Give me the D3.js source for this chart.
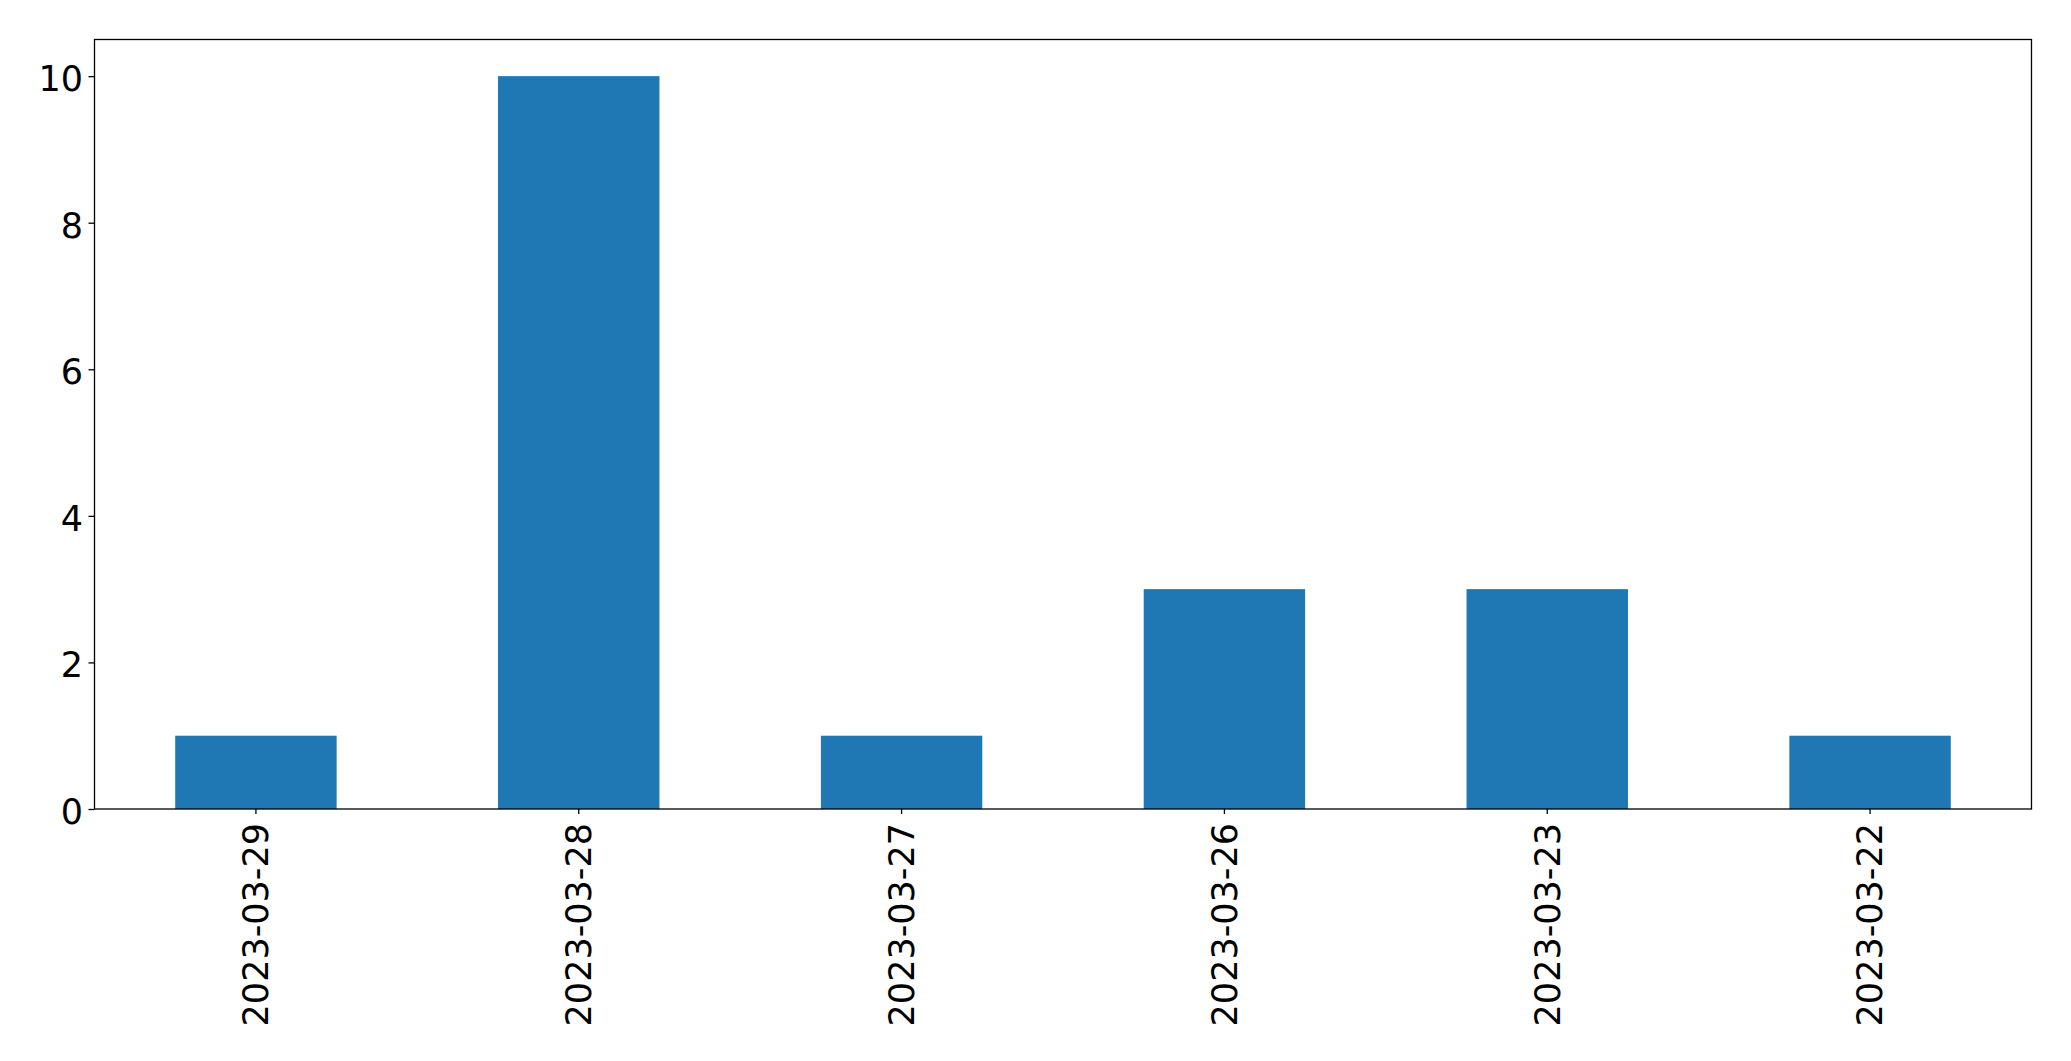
<!DOCTYPE html>
<html>
<head>
<meta charset="utf-8">
<script src="https://cdn.jsdelivr.net/npm/d3@7"></script>
<style>
  body { margin: 0; background: white; }
  svg text { font-family: 'DejaVu Sans', sans-serif; fill: black; }
</style>
</head>
<body>
<div id="viz"></div>
<script>
var dates = ['2023-03-29', '2023-03-28', '2023-03-27', '2023-03-26', '2023-03-23', '2023-03-22'];
var counts = [1, 10, 1, 3, 3, 1];
var yTicks = [0, 2, 4, 6, 8, 10];

var width = 2071,
    height = 1061,
    plotLeft = 94.5,
    plotRight = 2031.5,
    plotTop = 39.5,
    plotBottom = 809;

var svg = d3.select('#viz').append('svg')
  .attr('width', width)
  .attr('height', height);

var xScale = d3.scaleBand()
  .domain(dates)
  .range([plotLeft, plotRight])
  .paddingInner(0.5)
  .paddingOuter(0.25);

var yScale = d3.scaleLinear()
  .domain([0, 10.5])
  .range([plotBottom, plotTop]);

svg.selectAll('rect.bar').data(counts)
  .enter().append('rect')
    .attr('class', 'bar')
    .attr('fill', '#1f77b4')
    .attr('x', function(d, i) { return xScale(dates[i]); })
    .attr('width', xScale.bandwidth())
    .attr('y', function(d) { return yScale(d); })
    .attr('height', function(d) { return plotBottom - yScale(d); });

// y axis
var yAxis = svg.append('g')
  .attr('transform', 'translate(' + plotLeft + ',0)')
  .call(d3.axisLeft(yScale).tickValues(yTicks).tickSize(6).tickPadding(5.5).tickFormat(d3.format('d')));
yAxis.select('.domain').remove();
yAxis.selectAll('line').attr('stroke-width', 1.3);
yAxis.selectAll('text')
  .attr('font-size', '35px')
  .attr('dy', '0.41em')
  .attr('font-family', "'DejaVu Sans', sans-serif");

// x axis
var xAxis = svg.append('g')
  .attr('transform', 'translate(0,' + plotBottom + ')')
  .call(d3.axisBottom(xScale).tickSize(5).tickPadding(0));
xAxis.select('.domain').remove();
xAxis.selectAll('line').attr('stroke-width', 1.3);
xAxis.selectAll('text')
  .attr('font-size', '35px')
  .attr('font-family', "'DejaVu Sans', sans-serif")
  .attr('text-anchor', 'end')
  .attr('dy', '0.35em')
  .attr('y', 0)
  .attr('transform', 'translate(0,14) rotate(-90)');

// frame
svg.append('rect')
  .attr('x', plotLeft)
  .attr('y', plotTop)
  .attr('width', plotRight - plotLeft)
  .attr('height', plotBottom - plotTop)
  .attr('fill', 'none')
  .attr('stroke', 'black')
  .attr('stroke-width', 1.3);
</script>
</body>
</html>
